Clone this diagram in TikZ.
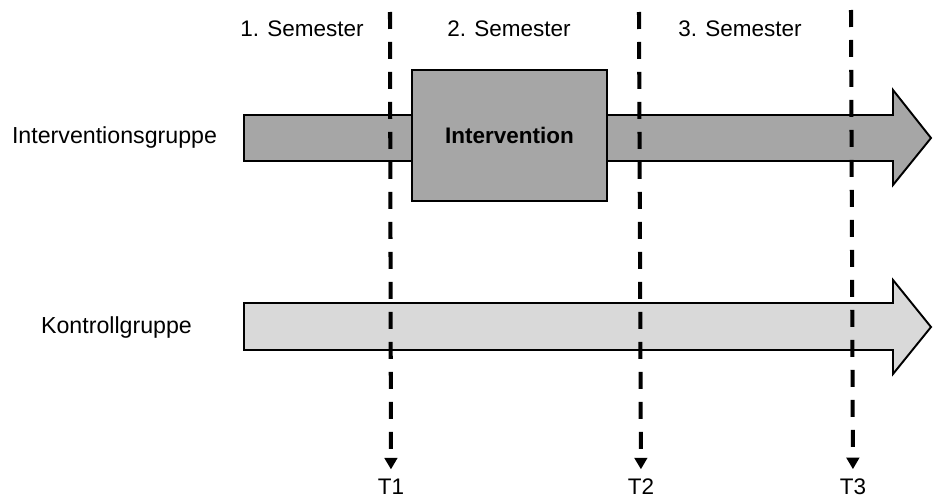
\documentclass[tikz,border=0pt]{standalone}
\usepackage{fontspec}
\setmainfont{Liberation Sans}
\usepackage{xcolor}
\usepackage{tikz}
\usetikzlibrary{arrows.meta, positioning}

\definecolor{groupdark}{HTML}{A6A6A6}
\definecolor{grouplight}{HTML}{D9D9D9}

\begin{document}
\begin{tikzpicture}[
    x=0.02cm, y=-0.02cm,
    txt/.style={font=\fontsize{12.8}{15}\selectfont, inner sep=2pt},
    grplabel/.style={font=\fontsize{13.2}{15}\selectfont, inner sep=2pt},
    grparrow/.style={draw=black, line width=1.1pt, line join=miter},
    ivbox/.style={rectangle, draw=black, line width=1.1pt, fill=groupdark, minimum width=3.9cm, minimum height=2.62cm, font=\fontsize{12.8}{15}\selectfont\bfseries},
    timeline/.style={-{Triangle[width=0.25cm, length=0.23cm]}, line width=2.3pt, dash pattern=on 0.34cm off 0.26cm, shorten >=0.12cm}
]
\useasboundingbox (0,0) rectangle (933,497);

% Gruppen
\draw[grparrow, fill=groupdark] (244,115) -- (893,115) -- (893,90) -- (931,138) -- (893,185) -- (893,161) -- (244,161) -- cycle;
\draw[grparrow, fill=grouplight] (244,303) -- (893,303) -- (893,280) -- (931,327) -- (893,374) -- (893,350) -- (244,350) -- cycle;

\node[grplabel] (ig) at (114.5,138) {Interventionsgruppe};
\node[grplabel] (kg) at (116.5,327) {Kontrollgruppe};

\node[ivbox] (iv) at (509.5,135.5) {Intervention};

% Semester
\node[txt] (sem1) at (302,29) {1. Semester};
\node[txt] (sem2) at (509,29) {2. Semester};
\node[txt] (sem3) at (740,29) {3. Semester};

% Messzeitpunkte
\coordinate (t1top) at (390,12);
\coordinate (t2top) at (639,12);
\coordinate (t3top) at (851,10);
\node[txt] (T1) at (391,487) {T1};
\node[txt] (T2) at (641,487) {T2};
\node[txt] (T3) at (853,487) {T3};

\draw[timeline] (t1top) -- (T1);
\draw[timeline] (t2top) -- (T2);
\draw[timeline] (t3top) -- (T3);

\end{tikzpicture}
\end{document}
